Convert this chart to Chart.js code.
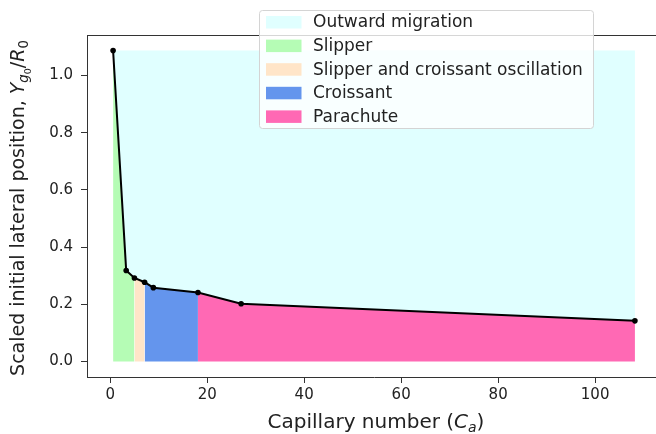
<!DOCTYPE html>
<html>
<head>
<meta charset="utf-8">
<script src="https://cdn.jsdelivr.net/npm/chart.js@4.4.1/dist/chart.umd.min.js"></script>
<style>
html, body { margin: 0; padding: 0; background: #fff; overflow: hidden; }
#wrap { position: relative; width: 670px; height: 434px; }
</style>
</head>
<body>
<div id="wrap"><canvas id="chart" width="670" height="434"></canvas></div>
<script>
// Capillary number vs scaled initial lateral position
const ca = [0.6, 3.3, 5.0, 7.1, 8.9, 18.1, 27.0, 108.2];
const yPos = [1.087, 0.318, 0.292, 0.277, 0.258, 0.241, 0.202, 0.142];

const regionLabels = ['Outward migration', 'Slipper', 'Slipper and croissant oscillation', 'Croissant', 'Parachute'];
const regionColors = ['#e0ffff', '#b5fcb5', '#ffe5c8', '#6495ed', '#ff69b4'];
// curve index ranges bounding the regions below the curve
const regionStart = [0, 2, 3, 5];
const regionEnd = [2, 3, 5, 7];

const xTicks = [0, 20, 40, 60, 80, 100];
const yTicks = [0, 0.2, 0.4, 0.6, 0.8, 1.0];

const FONT = 'DejaVu Sans';
const TEXT = '#222';

const pts = ca.map((x, i) => ({ x: x, y: yPos[i] }));
const yTop = Math.max(...yPos);
const xSpan = ca[ca.length - 1] - ca[0];
const xMin = ca[0] - 0.05 * xSpan, xMax = ca[ca.length - 1] + 0.05 * xSpan;
const yMin = -0.05 * yTop, yMax = yTop * 1.05;

/**
 * Draw a row of text runs (plain / italic / sub) centred on 0
 */
function drawRuns(ctx, runs, size) {
    let total = 0;
    runs.forEach(r => {
        ctx.font = (r.it ? 'italic ' : '') + (size * (r.s || 1)) + 'px "' + FONT + '"';
        r.w = ctx.measureText(r.t).width;
        total += r.w;
    });
    let x = -total / 2;
    runs.forEach(r => {
        ctx.font = (r.it ? 'italic ' : '') + (size * (r.s || 1)) + 'px "' + FONT + '"';
        ctx.fillText(r.t, x, (r.dy || 0) * size);
        x += r.w;
    });
}

const decorations = {
    id: 'decorations',
    afterDraw(chart) {
        const { ctx, chartArea: a } = chart;
        ctx.save();

        // top / right spines
        ctx.strokeStyle = '#333';
        ctx.lineWidth = 1;
        ctx.beginPath();
        ctx.moveTo(a.left, a.top + 0.5);
        ctx.lineTo(a.right, a.top + 0.5);
        ctx.moveTo(a.right - 0.5, a.top);
        ctx.lineTo(a.right - 0.5, a.bottom);
        ctx.stroke();

        // axis titles
        ctx.fillStyle = TEXT;
        ctx.textBaseline = 'alphabetic';
        ctx.save();
        ctx.translate(376, 428);
        drawRuns(ctx, [
            { t: 'Capillary number (' },
            { t: 'C', it: true },
            { t: 'a', it: true, s: 0.7, dy: 0.2 },
            { t: ')' }
        ], 20);
        ctx.restore();

        ctx.save();
        ctx.translate(24, 208);
        ctx.rotate(-Math.PI / 2);
        drawRuns(ctx, [
            { t: 'Scaled initial lateral position, ' },
            { t: 'Y', it: true },
            { t: 'g', it: true, s: 0.7, dy: 0.2 },
            { t: '0', s: 0.5, dy: 0.35 },
            { t: '/' },
            { t: 'R', it: true },
            { t: '0', s: 0.7, dy: 0.2 }
        ], 19);
        ctx.restore();

        // legend box
        const bx = 259.5, by = 10.5, bw = 334, bh = 118, r = 3;
        ctx.beginPath();
        ctx.moveTo(bx + r, by);
        ctx.arcTo(bx + bw, by, bx + bw, by + bh, r);
        ctx.arcTo(bx + bw, by + bh, bx, by + bh, r);
        ctx.arcTo(bx, by + bh, bx, by, r);
        ctx.arcTo(bx, by, bx + bw, by, r);
        ctx.closePath();
        ctx.fillStyle = 'rgba(255,255,255,0.8)';
        ctx.fill();
        ctx.strokeStyle = '#d4d4d4';
        ctx.stroke();

        ctx.font = '17px "' + FONT + '"';
        ctx.textBaseline = 'middle';
        regionLabels.forEach((lab, i) => {
            const cy = 22 + i * 23.6;
            ctx.fillStyle = regionColors[i];
            ctx.fillRect(266, cy - 6, 35.5, 12.5);
            ctx.fillStyle = TEXT;
            ctx.fillText(lab, 313, cy + 1);
        });
        ctx.restore();
    }
};

const datasets = [{
    label: '',
    data: pts,
    borderColor: '#000',
    borderWidth: 2,
    pointRadius: 2.8,
    pointBackgroundColor: '#000',
    pointBorderWidth: 0,
    fill: false,
    order: 0
}, {
    label: regionLabels[0],
    data: pts,
    borderColor: 'transparent',
    borderWidth: 0,
    pointRadius: 0,
    backgroundColor: regionColors[0],
    fill: { value: yTop },
    order: 1
}];
regionStart.forEach((s, i) => {
    datasets.push({
        label: regionLabels[i + 1],
        data: pts.slice(s, regionEnd[i] + 1),
        borderColor: 'transparent',
        borderWidth: 0,
        pointRadius: 0,
        backgroundColor: regionColors[i + 1],
        fill: 'origin',
        order: 1
    });
});

const axisGrid = { display: true, drawOnChartArea: false, drawTicks: true, tickLength: 6, color: '#333', lineWidth: 1 };
const axisBorder = { display: true, color: '#333', width: 1 };

new Chart(document.getElementById('chart'), {
    type: 'line',
    data: { datasets: datasets },
    plugins: [decorations],
    options: {
        responsive: false,
        devicePixelRatio: 1,
        animation: false,
        events: [],
        layout: { padding: { top: 35, right: 9, left: 0, bottom: 0 } },
        plugins: { legend: { display: false }, tooltip: { enabled: false } },
        elements: { line: { tension: 0 } },
        scales: {
            x: {
                type: 'linear',
                min: xMin,
                max: xMax,
                afterBuildTicks: s => { s.ticks = xTicks.map(v => ({ value: v })); },
                afterFit: s => { s.height = 57; },
                grid: axisGrid,
                border: axisBorder,
                ticks: {
                    color: TEXT,
                    padding: 3,
                    maxRotation: 0,
                    font: { family: FONT, size: 15 },
                    callback: v => String(v)
                }
            },
            y: {
                type: 'linear',
                min: yMin,
                max: yMax,
                afterBuildTicks: s => { s.ticks = yTicks.map(v => ({ value: v })); },
                afterFit: s => { s.width = 87; },
                grid: axisGrid,
                border: axisBorder,
                ticks: {
                    color: TEXT,
                    padding: 8,
                    font: { family: FONT, size: 15 },
                    callback: v => v.toFixed(1)
                }
            }
        }
    }
});
</script>
</body>
</html>
